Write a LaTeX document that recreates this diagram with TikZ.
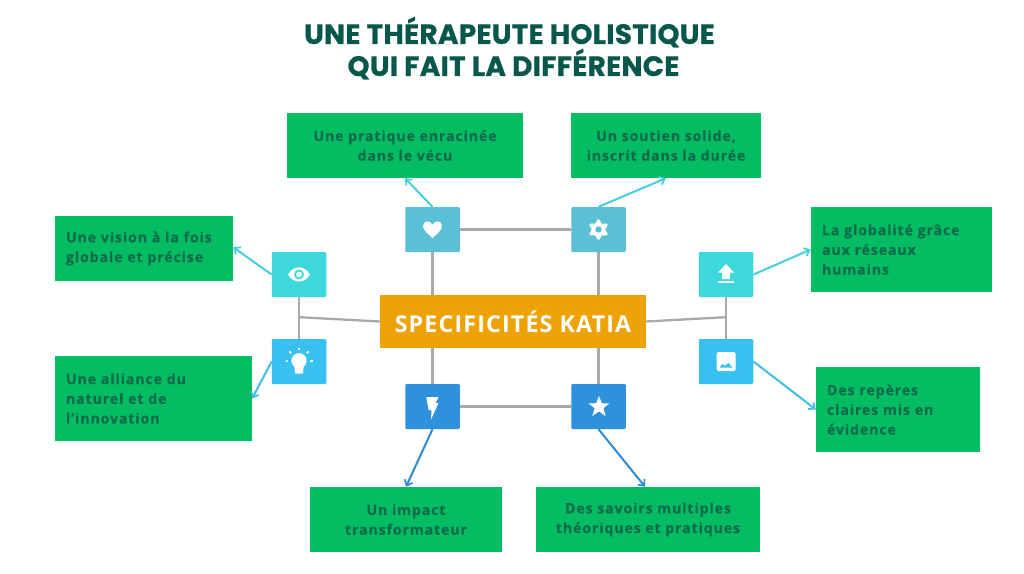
\documentclass[tikz,border=0pt]{standalone}
\usepackage{fontspec}
\usetikzlibrary{calc,arrows.meta}
\newfontfamily\bodyfont[LetterSpace=6,Ligatures=NoCommon,FakeBold=0.3]{Open Sans}
\newfontfamily\titlefont[LetterSpace=1,FakeBold=0.7]{Poppins}
\newfontfamily\centerfont[LetterSpace=5,Ligatures=NoCommon]{Open Sans}
\definecolor{boxgreen}{HTML}{04BD63}
\definecolor{inkgreen}{HTML}{0B6B4A}
\definecolor{titlegreen}{HTML}{07584A}
\definecolor{amber}{HTML}{EDA307}
\definecolor{linkgray}{HTML}{A9A9A9}
\definecolor{tealA}{HTML}{5BC0D6}
\definecolor{tealB}{HTML}{3DD8DC}
\definecolor{skyB}{HTML}{38C1F0}
\definecolor{blueC}{HTML}{2F90DC}
\definecolor{arrowA}{HTML}{45CFDA}
\definecolor{arrowB}{HTML}{3FBFE6}
\definecolor{arrowC}{HTML}{2E8BD2}
\tikzset{
  x=1pt,y=-1pt,
  txtbox/.style n args={2}{fill=boxgreen,inner sep=0pt,minimum width=#1,minimum height=#2,
    text=inkgreen,font=\bodyfont\bfseries\fontsize{14.2}{19.7}\selectfont},
  tile/.style={fill=#1,rounded corners=1.2pt,minimum width=54.5pt,minimum height=45pt,inner sep=0pt},
  link/.style={draw=linkgray,line width=2.3pt},
  pointer/.style={draw=#1,line width=2pt,-{Straight Barb[length=5pt,width=8.5pt,line width=1.7pt]}},
  glyph/.style={fill=white,draw=none}
}
\begin{document}
\begin{tikzpicture}
\useasboundingbox (0,0) rectangle (1024,573);
\fill[white] (0,0) rectangle (1024,573);
\node[text=titlegreen,align=center,font=\titlefont\bfseries\fontsize{27.9}{32}\selectfont] (title) at (509.5,48) {UNE THÉRAPEUTE HOLISTIQUE\\\hspace*{8pt}QUI FAIT LA DIFFÉRENCE};

\node[txtbox={236pt}{65pt},align=center] (tl) at (405,145.5) {Une pratique enracinée\\dans le vécu};
\node[txtbox={190pt}{65pt},align=center] (tr) at (666,145.5) {Un soutien solide,\\inscrit dans la durée};
\node[txtbox={178pt}{65pt},align=left,text width=156pt] (l1) at (144,248.5) {Une vision à la fois\\globale et précise};
\node[txtbox={197pt}{85pt},align=left,text width=175pt] (l2) at (153.5,398.5) {Une alliance du\\naturel et de\\l’innovation};
\node[txtbox={181pt}{85pt},align=left,text width=159pt] (r1) at (901.5,249.5) {La globalité grâce\\aux réseaux\\humains};
\node[txtbox={164pt}{85pt},align=left,text width=142pt] (r2) at (898,409.5) {Des repères\\claires mis en\\évidence};
\node[txtbox={192pt}{65pt},align=center] (b1) at (406,519.5) {Un impact\\transformateur};
\node[txtbox={224pt}{65pt},align=center] (b2) at (648,519.5) {Des savoirs multiples\\théoriques et pratiques};

\node[fill=amber,text=white,minimum width=266pt,minimum height=53pt,inner sep=0pt,font=\centerfont\bfseries\fontsize{23.2}{26}\selectfont] (core) at (513,321.5) {SPECIFICITÉS KATIA};

\node[tile=tealA] (heart) at (432.5,229.5) {};
\node[tile=tealA] (gear) at (598.5,229.5) {};
\node[tile=tealB] (eye) at (299,274.5) {};
\node[tile=skyB] (bulb) at (299,361.5) {};
\node[tile=tealB] (upload) at (726,274.5) {};
\node[tile=skyB] (image) at (726,361.5) {};
\node[tile=blueC] (bolt) at (432.5,406.5) {};
\node[tile=blueC] (star) at (598.5,406.5) {};

% grey links
\coordinate (ljoin) at ($(eye.south)!0.48!(bulb.north)$);
\coordinate (rjoin) at ($(upload.south)!0.48!(image.north)$);
\draw[link] (heart) -- (gear);
\draw[link] (bolt) -- (star);
\draw[link] (heart.south) -- (heart.south |- core.north);
\draw[link] (gear.south) -- (gear.south |- core.north);
\draw[link] (bolt.north) -- (bolt.north |- core.south);
\draw[link] (star.north) -- (star.north |- core.south);
\draw[link] (eye.south) -- (bulb.north);
\draw[link] (upload.south) -- (image.north);
\draw[link] (ljoin) -- (core.west);
\draw[link] (rjoin) -- (core.east);

% pointers
\draw[pointer=arrowA] (heart.north) -- ($(tl.south west)!0.5!(tl.south east)$);
\draw[pointer=arrowA] (gear.north) -- (tr.south);
\draw[pointer=arrowA] (eye.west) -- ($(l1.south east)!0.52!(l1.north east)$);
\draw[pointer=arrowB] (bulb.west) -- ($(l2.south east)!0.5!(l2.north east)$);
\draw[pointer=arrowA] (upload.east) -- ($(r1.north west)!0.5!(r1.south west)$);
\draw[pointer=arrowB] (image.east) -- ($(r2.north west)!0.5!(r2.south west)$);
\draw[pointer=arrowC] (bolt.south) -- (b1.north);
\draw[pointer=arrowC] (star.south) -- ($(b2.north west)!0.487!(b2.north east)$);

% icons
\fill[glyph,shift={(heart.center)}] (0,8.5) .. controls (-3,5.5) and (-9.5,1) .. (-9.5,-3.2) .. controls (-9.5,-9) and (-2.5,-9.5) .. (0,-5) .. controls (2.5,-9.5) and (9.5,-9) .. (9.5,-3.2) .. controls (9.5,1) and (3,5.5) .. (0,8.5) -- cycle;
\begin{scope}[shift={(gear.center)}]
  \fill[glyph,rounded corners=1.6pt] (0,-11.5) -- (10,5.8) -- (-10,5.8) -- cycle;
  \fill[glyph,rounded corners=1.6pt] (0,11.5) -- (-10,-5.8) -- (10,-5.8) -- cycle;
  \fill[tealA] (0,0) circle (3.2);
\end{scope}
\begin{scope}[shift={(eye.center)}]
  \fill[glyph] (-11,0) .. controls (-5.5,-9.5) and (5.5,-9.5) .. (11,0) .. controls (5.5,9.5) and (-5.5,9.5) .. (-11,0) -- cycle;
  \fill[tealB] (0,0) circle (5);
  \fill[glyph] (0,0) circle (2.9);
\end{scope}
\begin{scope}[shift={(bulb.center)}]
  \fill[glyph] (0,-0.8) circle (7.6);
  \fill[glyph] (-4.8,3) -- (4.8,3) -- (4,12) -- (-4,12) -- cycle;
  \foreach \a in {0,45,90,135,180} {
    \draw[white,line width=2pt] ($(0,-0.5)+({180+\a}:11)$) -- ($(0,-0.5)+({180+\a}:13.5)$);
  }
\end{scope}
\begin{scope}[shift={(upload.center)}]
  \fill[glyph] (0,-10.5) -- (8,-2) -- (4,-2) -- (4,4.5) -- (-4,4.5) -- (-4,-2) -- (-8,-2) -- cycle;
  \fill[glyph] (-8,6.5) rectangle (8,8.8);
\end{scope}
\begin{scope}[shift={(image.center)}]
  \fill[glyph,rounded corners=1.5pt] (-9.5,-9.5) rectangle (9.5,9.5);
  \fill[skyB] (-6.5,6) -- (-3.5,2.4) -- (-1.2,4.4) -- (2.5,1.5) -- (6.5,6) -- cycle;
\end{scope}
\fill[glyph,shift={(bolt.center)}] (-6.2,-9.5) -- (6,-9.5) -- (3,-3.5) -- (6,-3.5) -- (-1.5,13) -- (-1,3.5) -- (-4,3.5) -- cycle;
\fill[glyph,shift={(star.center)}] (0.5,-10.5) -- (3.3,-3.3) -- (11,-3.1) -- (4.9,1.6) -- (7.1,9.5) -- (0.5,4.9) -- (-6.1,9.5) -- (-3.9,1.6) -- (-10,-3.1) -- (-2.3,-3.3) -- cycle;
\end{tikzpicture}
\end{document}
